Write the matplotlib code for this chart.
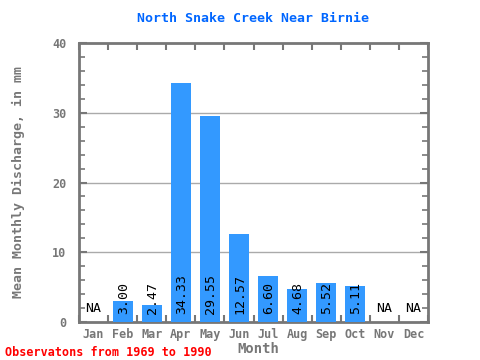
import matplotlib
matplotlib.use("Agg")
import matplotlib.pyplot as plt
import numpy as np

months = ["Jan", "Feb", "Mar", "Apr", "May", "Jun", "Jul", "Aug", "Sep", "Oct", "Nov", "Dec"]
values = [None, 3.00, 2.47, 34.33, 29.55, 12.57, 6.60, 4.68, 5.52, 5.11, None, None]
labels = ["NA", "3.00", "2.47", "34.33", "29.55", "12.57", "6.60", "4.68", "5.52", "5.11", "NA", "NA"]
yticks = [0, 10, 20, 30, 40]

title = "North Snake Creek Near Birnie"
ylabel = "Mean Monthly Discharge, in mm"
xlabel = "Month"
footer = "Observatons from 1969 to 1990"

gray = "#777777"
mono = "DejaVu Sans Mono"

fig = plt.figure(figsize=(4.8, 3.6), dpi=100)
ax = fig.add_axes([79/480, 1-322/360, (428-79)/480, (322-43)/360])

x = np.arange(len(months))
for i, (v, lab) in enumerate(zip(values, labels)):
    if v is None:
        ax.text(i, 2.0, lab, ha="center", va="center", fontsize=9.5, family=mono, color="black", zorder=4)
    else:
        ax.bar(i, v, width=0.68, color="#3399ff", zorder=3)
        ax.text(i + 0.02, 1.2, lab, ha="center", va="bottom", rotation=90, fontsize=9.5,
                family=mono, color="black", zorder=4)

ax.set_xlim(-0.5, 11.5)
ax.set_ylim(0, 40)
ax.set_yticks(yticks)
ax.set_yticks(np.arange(0, 41, 2), minor=True)
ax.set_xticks(x)
ax.set_xticklabels(months)
ax.set_xticks(np.arange(-0.5, 12, 1), minor=True)

for yv in [10, 20, 30]:
    ax.axhline(yv, color="#aaaaaa", lw=1, zorder=1)

for s in ax.spines.values():
    s.set_color(gray)
    s.set_linewidth(2)

ax.tick_params(axis="x", which="major", length=0, pad=4, labelsize=8.5, labelcolor=gray)
ax.tick_params(axis="x", which="minor", direction="in", length=5, width=1.5, color=gray, top=True, bottom=True)
ax.tick_params(axis="y", which="major", direction="in", length=6, width=1.5, color=gray, left=True, right=True,
               labelsize=8.5, labelcolor=gray, pad=9)
ax.tick_params(axis="y", which="minor", direction="in", length=4, width=1.2, color=gray, left=True, right=True)
for lab in ax.get_xticklabels() + ax.get_yticklabels():
    lab.set_family(mono)
    lab.set_fontweight("bold")

fig.text(253/480, 1-18/360, title, ha="center", va="center", color="#0066ff",
         fontsize=9.5, family=mono, fontweight="bold")
fig.text(18/480, 1-182/360, ylabel, ha="center", va="center", rotation=90,
         family=mono, fontweight="bold", fontsize=9.5, color=gray)
fig.text(258/480, 1-349/360, xlabel, ha="center", va="center",
         family=mono, fontweight="bold", fontsize=10, color=gray)
fig.text(5/480, 1-352/360, footer, ha="left", va="center", color="red",
         fontsize=8.5, family=mono, fontweight="bold")

fig.savefig("out.png", dpi=100)
